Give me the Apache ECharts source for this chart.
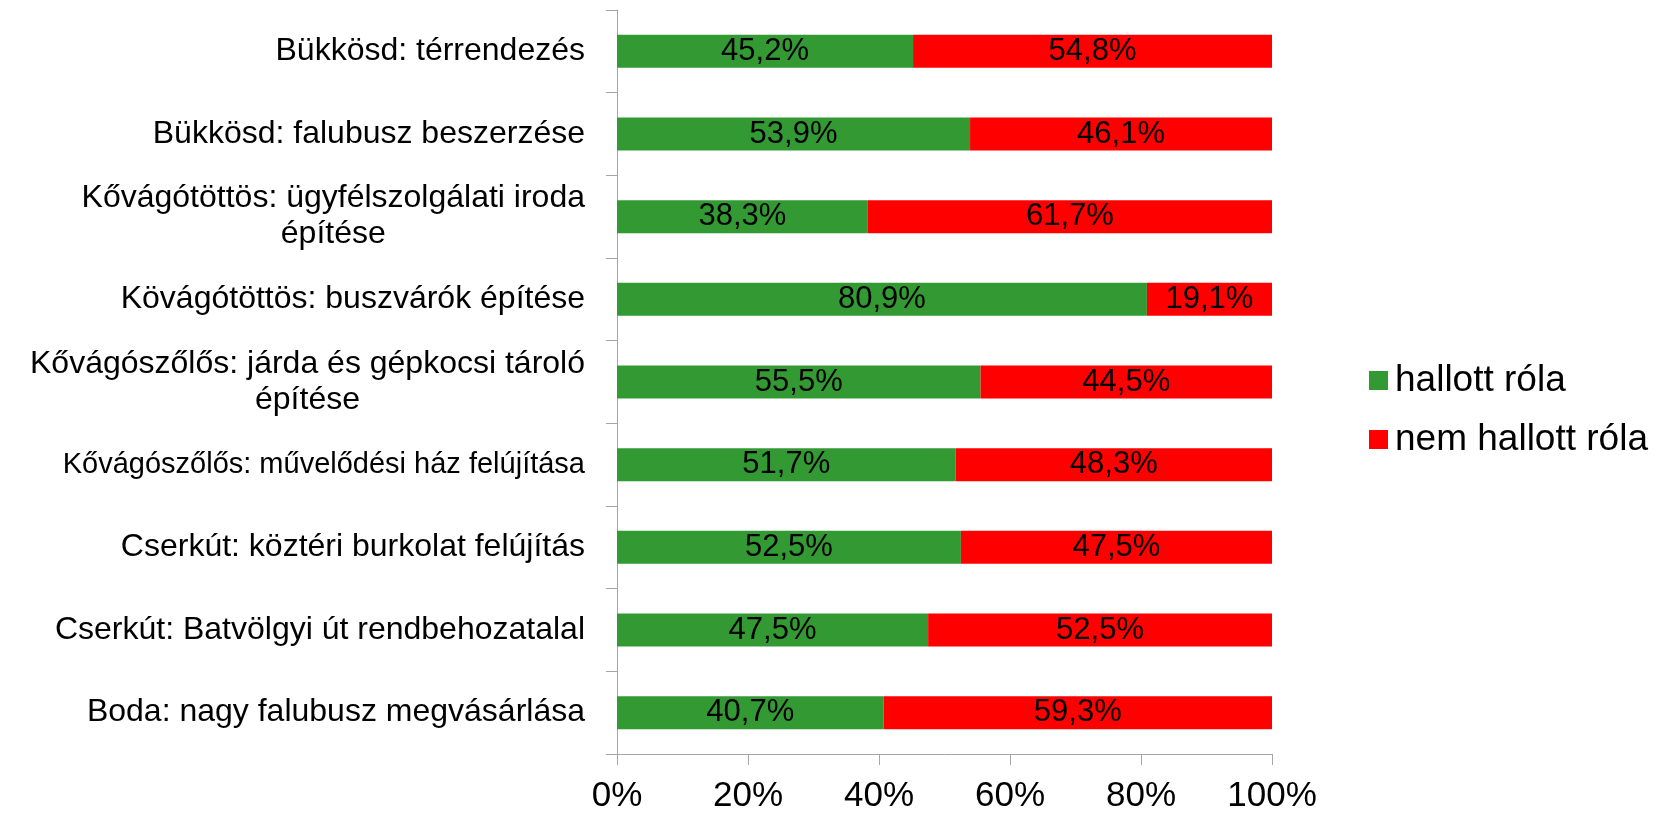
<!DOCTYPE html>
<html>
<head>
<meta charset="utf-8">
<script src="https://cdn.jsdelivr.net/npm/echarts@6/dist/echarts.min.js"></script>
<style>
  html, body { margin: 0; padding: 0; background: #fff; }
  #chart { width: 1659px; height: 815px; }
</style>
</head>
<body>
<div id="chart"></div>
<script>
// kategóriák felülről lefelé
const categories = [
    'Bükkösd: térrendezés',
    'Bükkösd: falubusz beszerzése',
    'Kővágótöttös: ügyfélszolgálati iroda\népítése',
    'Kövágótöttös: buszvárók építése',
    'Kővágószőlős: járda és gépkocsi tároló\népítése',
    'Kővágószőlős: művelődési ház felújítása',
    'Cserkút: köztéri burkolat felújítás',
    'Cserkút: Batvölgyi út rendbehozatalal',
    'Boda: nagy falubusz megvásárlása'
];
const heardValues = [45.2, 53.9, 38.3, 80.9, 55.5, 51.7, 52.5, 47.5, 40.7];
const notHeardValues = [54.8, 46.1, 61.7, 19.1, 44.5, 48.3, 47.5, 52.5, 59.3];
const xTicks = [0, 20, 40, 60, 80, 100];

const axisGrey = '#a6a6a6';
const font = 'Liberation Sans, Arial, sans-serif';

var chart = echarts.init(document.getElementById('chart'));

function pctLabel(p) {
    return p.value.toFixed(1).replace('.', ',') + '%';
}

// a kétsoros címkéknél a második sor középen van
function catLabel(v, i) {
    // ez a sor az eredetin keskenyebben van szedve
    if (i === 5) return '{n|' + v + '}';
    return v.split('\n').map(function (s) { return '{c|' + s + '}'; }).join('\n');
}

let option = {
    animation: false,
    backgroundColor: '#ffffff',
    textStyle: { fontFamily: font },
    grid: {
        left: 617,
        right: 387,
        top: 10,
        bottom: 61
    },
    legend: {
        orient: 'vertical',
        left: 1364,
        top: 357,
        itemWidth: 19,
        itemHeight: 19,
        itemGap: 22,
        icon: 'rect',
        textStyle: { fontSize: 37, color: '#000', fontFamily: font, padding: [0, 0, 0, 2] },
        data: ['hallott róla', 'nem hallott róla']
    },
    xAxis: {
        type: 'value',
        min: xTicks[0],
        max: xTicks[xTicks.length - 1],
        interval: 20,
        axisLine: { show: true, lineStyle: { color: axisGrey, width: 1 } },
        axisTick: { show: true, length: 11, lineStyle: { color: axisGrey } },
        splitLine: { show: false },
        axisLabel: {
            margin: 25,
            fontSize: 35,
            color: '#000',
            fontFamily: font,
            formatter: '{value}%'
        }
    },
    yAxis: {
        type: 'category',
        inverse: true,
        data: categories,
        axisLine: { show: true, lineStyle: { color: axisGrey, width: 1 } },
        axisTick: { show: true, length: 11, lineStyle: { color: axisGrey } },
        axisLabel: {
            margin: 32,
            fontSize: 32,
            lineHeight: 36,
            color: '#000',
            align: 'right',
            fontFamily: font,
            formatter: catLabel,
            rich: {
                c: { align: 'center', fontSize: 32, lineHeight: 36, color: '#000', fontFamily: font },
                n: { align: 'center', fontSize: 29, lineHeight: 36, color: '#000', fontFamily: font }
            }
        }
    },
    series: [
        {
            name: 'hallott róla',
            type: 'bar',
            stack: 'total',
            barWidth: 33,
            itemStyle: { color: '#339933' },
            label: { show: true, position: 'inside', color: '#000', fontSize: 31, fontFamily: font, formatter: pctLabel },
            data: heardValues
        },
        {
            name: 'nem hallott róla',
            type: 'bar',
            stack: 'total',
            barWidth: 33,
            itemStyle: { color: '#ff0000' },
            label: { show: true, position: 'inside', color: '#000', fontSize: 31, fontFamily: font, formatter: pctLabel },
            data: notHeardValues
        }
    ]
};

chart.setOption(option);
</script>
</body>
</html>
